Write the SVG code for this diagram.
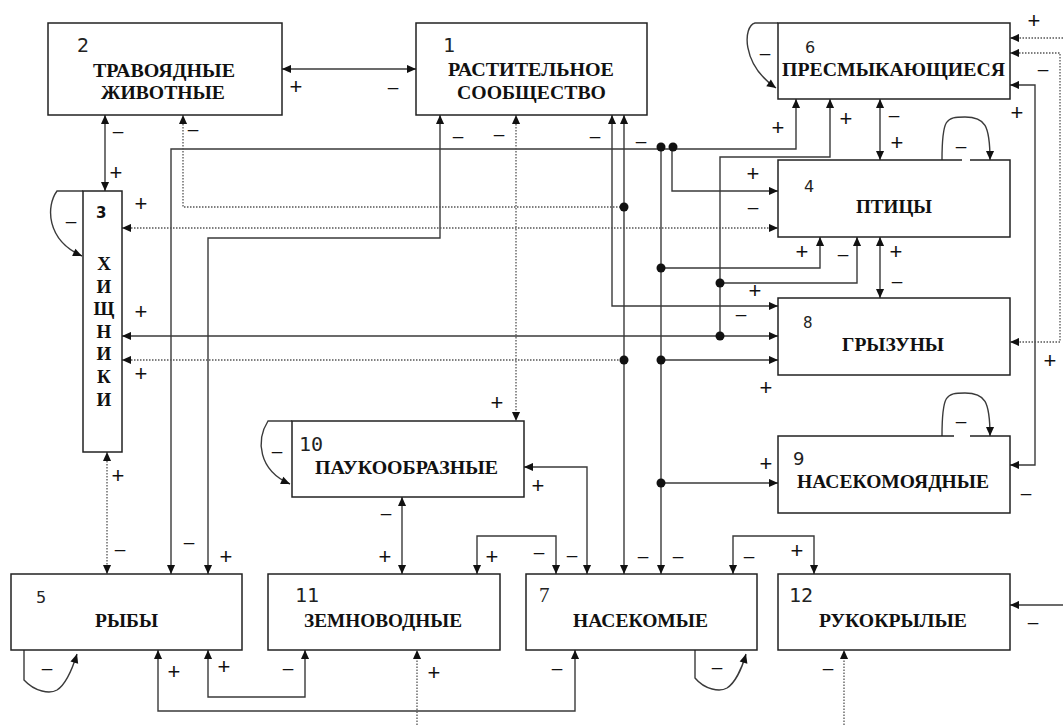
<svg xmlns="http://www.w3.org/2000/svg" width="1063" height="725" viewBox="0 0 1063 725">
<defs>
<marker id="ah" viewBox="0 0 10 10" refX="10" refY="5" markerWidth="10" markerHeight="9" markerUnits="userSpaceOnUse" orient="auto-start-reverse">
<path d="M0,0.5 L10,5 L0,9.5 z" fill="#111"/>
</marker>
</defs>
<style>
.box{fill:#fff;stroke:#222;stroke-width:1.5}
.ln{fill:none;stroke:#3a3a3a;stroke-width:1.4}
.dt{fill:none;stroke:#555;stroke-width:1.3;stroke-dasharray:1.5 1.5}
.a1{marker-end:url(#ah)}
.a2{marker-start:url(#ah);marker-end:url(#ah)}
.as{marker-start:url(#ah)}
.dot{fill:#111}
.name{font-family:"Liberation Serif","Times New Roman",serif;font-weight:bold;font-size:19px;fill:#111}
.num{font-family:"DejaVu Sans",sans-serif;fill:#222}
.mono{font-family:"DejaVu Sans Mono","Liberation Mono",monospace;font-size:20px;fill:#222}
.sg{font-family:"Liberation Sans",Arial,sans-serif;font-size:19px;text-anchor:middle;fill:#111}
.sg .p{font-size:22px}
.gap{stroke:#fff;stroke-width:3}
</style>
<rect width="1063" height="725" fill="#fff"/>

<g id="connectors">
<path class="ln a2" d="M282,69 H416"/>
<path class="ln a2" d="M105,115 V191"/>
<path class="ln a2" d="M440,115 V238 H208 V574"/>
<path class="ln a2" d="M171,574 V149 H796 V99"/>
<path class="ln a1" d="M672,149 V191 H778"/>
<path class="ln a1" d="M661,149 V574"/>
<path class="ln a1" d="M661,268 H820 V237"/>
<path class="ln a1" d="M661,360 H778"/>
<path class="ln a1" d="M661,483 H778"/>
<path class="ln a2" d="M612,115 V306 H778"/>
<path class="ln a2" d="M624,115 V574"/>
<path class="ln a2" d="M122,336 H778"/>
<path class="ln a1" d="M720,336 V157 H830 V99"/>
<path class="ln a1" d="M720,283 H857 V237"/>
<path class="ln a2" d="M880,99 V160"/>
<path class="ln a2" d="M880,237 V298"/>
<path class="ln a2" d="M524,467 H587 V574"/>
<path class="ln a2" d="M402,497 V574"/>
<path class="ln a2" d="M477,574 V536 H556 V574"/>
<path class="ln a2" d="M733,574 V536 H814 V574"/>
<path class="ln a2" d="M208,650 V697 H305 V650"/>
<path class="ln a2" d="M158,650 V711 H575 V650"/>
<path class="ln a1" d="M1063,605 H1010"/>
<path class="ln a2" d="M1010,85 H1035 V465 H1010"/>
<path class="dt as" d="M183,115 V207 H624"/>
<path class="dt a2" d="M122,228 H778"/>
<path class="dt a2" d="M516,115 V421"/>
<path class="dt as" d="M122,360 H624"/>
<path class="dt a2" d="M107,452 V574"/>
<path class="dt a1" d="M417,725 V650"/>
<path class="dt a1" d="M844,725 V650"/>
<path class="dt a1" d="M1063,38 H1010"/>
<path class="dt a2" d="M1010,53 H1060 V342 H1010"/>
<path class="ln a1" d="M778,23 H755 C743,26 741,64 776,88"/>
<path class="ln a1" d="M83,191 H57 C46,206 46,240 82,256"/>
<path class="ln a1" d="M292,421 H268 C256,440 258,470 290,484"/>
<path class="ln a1" d="M942,160 C942,118 946,117 965,117 C985,117 990,125 990,160"/>
<path class="ln a1" d="M942,436 C942,394 946,393 965,393 C985,393 990,401 990,436"/>
<path class="ln a1" d="M24,650 V680 C35,692 50,694 57,690 C65,685 72,670 77,654"/>
<path class="ln a1" d="M695,650 V678 C705,690 720,692 727,688 C735,683 742,668 746,654"/>
<circle class="dot" cx="661" cy="147" r="4.5"/>
<circle class="dot" cx="673" cy="147" r="4.5"/>
<circle class="dot" cx="624" cy="207" r="4.5"/>
<circle class="dot" cx="661" cy="268" r="4.5"/>
<circle class="dot" cx="624" cy="360" r="4.5"/>
<circle class="dot" cx="661" cy="360" r="4.5"/>
<circle class="dot" cx="720" cy="283" r="4.5"/>
<circle class="dot" cx="720" cy="336" r="4.5"/>
<circle class="dot" cx="661" cy="483" r="4.5"/>
</g>

<g id="node-2">
<rect class="box" x="48" y="23" width="234" height="92"/>
<text class="num" x="77" y="52" font-size="19">2</text>
<text class="name" x="93" y="77" textLength="142" lengthAdjust="spacingAndGlyphs">ТРАВОЯДНЫЕ</text>
<text class="name" x="101" y="99" textLength="124" lengthAdjust="spacingAndGlyphs">ЖИВОТНЫЕ</text>
</g>
<g id="node-1">
<rect class="box" x="416" y="23" width="231" height="92"/>
<text class="mono" x="443" y="52">1</text>
<text class="name" x="448" y="76" textLength="166" lengthAdjust="spacingAndGlyphs">РАСТИТЕЛЬНОЕ</text>
<text class="name" x="457" y="99" textLength="149" lengthAdjust="spacingAndGlyphs">СООБЩЕСТВО</text>
</g>
<g id="node-6">
<rect class="box" x="778" y="23" width="232" height="76"/>
<text class="num" x="805" y="53" font-size="16">6</text>
<text class="name" x="782" y="76" textLength="223" lengthAdjust="spacingAndGlyphs">ПРЕСМЫКАЮЩИЕСЯ</text>
</g>
<g id="node-4">
<rect class="box" x="778" y="160" width="232" height="77"/>
<line class="gap" x1="962" y1="160" x2="970" y2="160"/>
<text class="num" x="804" y="192" font-size="16">4</text>
<text class="name" x="856" y="213" textLength="76" lengthAdjust="spacingAndGlyphs">ПТИЦЫ</text>
</g>
<g id="node-8">
<rect class="box" x="778" y="298" width="232" height="77"/>
<text class="num" x="803" y="328" font-size="15">8</text>
<text class="name" x="842" y="351" textLength="102" lengthAdjust="spacingAndGlyphs">ГРЫЗУНЫ</text>
</g>
<g id="node-9">
<rect class="box" x="778" y="436" width="232" height="77"/>
<line class="gap" x1="954" y1="436" x2="970" y2="436"/>
<text class="num" x="793" y="465" font-size="18">9</text>
<text class="name" x="797" y="488" textLength="192" lengthAdjust="spacingAndGlyphs">НАСЕКОМОЯДНЫЕ</text>
</g>
<g id="node-3">
<rect class="box" x="83" y="191" width="39" height="261"/>
<text x="96" y="218" font-family="DejaVu Sans,sans-serif" font-weight="bold" font-size="15" fill="#111">3</text>
<g class="name" text-anchor="middle" font-size="17">
<text x="104" y="270">Х</text>
<text x="104" y="293">И</text>
<text x="104" y="315">Щ</text>
<text x="104" y="338">Н</text>
<text x="104" y="360">И</text>
<text x="104" y="383">К</text>
<text x="104" y="406">И</text>
</g>
</g>
<g id="node-10">
<rect class="box" x="292" y="421" width="232" height="76"/>
<text class="mono" x="299" y="451">10</text>
<text class="name" x="315" y="474" textLength="183" lengthAdjust="spacingAndGlyphs">ПАУКООБРАЗНЫЕ</text>
</g>
<g id="node-5">
<rect class="box" x="11" y="574" width="231" height="76"/>
<text class="num" x="36" y="603" font-size="16">5</text>
<text class="name" x="95" y="627" textLength="63" lengthAdjust="spacingAndGlyphs">РЫБЫ</text>
</g>
<g id="node-11">
<rect class="box" x="268" y="574" width="232" height="76"/>
<text class="mono" x="295" y="602">11</text>
<text class="name" x="304" y="627" textLength="158" lengthAdjust="spacingAndGlyphs">ЗЕМНОВОДНЫЕ</text>
</g>
<g id="node-7">
<rect class="box" x="526" y="574" width="231" height="76"/>
<text x="539" y="602" font-family="Liberation Serif,serif" font-size="21" fill="#222">7</text>
<text class="name" x="573" y="627" textLength="135" lengthAdjust="spacingAndGlyphs">НАСЕКОМЫЕ</text>
</g>
<g id="node-12">
<rect class="box" x="778" y="574" width="232" height="76"/>
<text class="mono" x="789" y="602">12</text>
<text class="name" x="819" y="627" textLength="148" lengthAdjust="spacingAndGlyphs">РУКОКРЫЛЫЕ</text>
</g>

<g id="signs" class="sg">
<text class="p" x="296" y="94">+</text>
<text x="393" y="93">–</text>
<text x="118" y="137">–</text>
<text class="p" x="116" y="180">+</text>
<text x="193" y="135">–</text>
<text class="p" x="141" y="211">+</text>
<text x="71" y="227">–</text>
<text class="p" x="141" y="319">+</text>
<text class="p" x="141" y="381">+</text>
<text class="p" x="118" y="483">+</text>
<text x="120" y="555">–</text>
<text x="189" y="548">–</text>
<text class="p" x="226" y="564">+</text>
<text x="47" y="674">–</text>
<text class="p" x="174" y="679">+</text>
<text class="p" x="224" y="674">+</text>
<text x="288" y="674">–</text>
<text x="458" y="142">–</text>
<text x="499" y="140">–</text>
<text x="595" y="142">–</text>
<text x="641" y="147">–</text>
<text class="p" x="497" y="410">+</text>
<text class="p" x="538" y="493">+</text>
<text x="277" y="457">–</text>
<text x="386" y="519">–</text>
<text class="p" x="385" y="564">+</text>
<text class="p" x="492" y="564">+</text>
<text x="539" y="558">–</text>
<text x="572" y="561">–</text>
<text x="643" y="562">–</text>
<text x="678" y="562">–</text>
<text class="p" x="434" y="680">+</text>
<text x="557" y="674">–</text>
<text x="717" y="673">–</text>
<text x="749" y="562">–</text>
<text class="p" x="797" y="558">+</text>
<text x="828" y="674">–</text>
<text x="1033" y="628">–</text>
<text x="1026" y="499">–</text>
<text class="p" x="766" y="471">+</text>
<text x="961" y="427">–</text>
<text class="p" x="1050" y="368">+</text>
<text class="p" x="766" y="395">+</text>
<text class="p" x="755" y="298">+</text>
<text x="741" y="320">–</text>
<text class="p" x="802" y="259">+</text>
<text x="843" y="260">–</text>
<text class="p" x="896" y="259">+</text>
<text x="897" y="287">–</text>
<text class="p" x="778" y="135">+</text>
<text class="p" x="846" y="126">+</text>
<text x="894" y="121">–</text>
<text class="p" x="897" y="150">+</text>
<text x="765" y="59">–</text>
<text x="961" y="152">–</text>
<text class="p" x="753" y="181">+</text>
<text x="753" y="213">–</text>
<text class="p" x="1034" y="28">+</text>
<text x="1043" y="75">–</text>
<text class="p" x="1017" y="120">+</text>
</g>
</svg>
